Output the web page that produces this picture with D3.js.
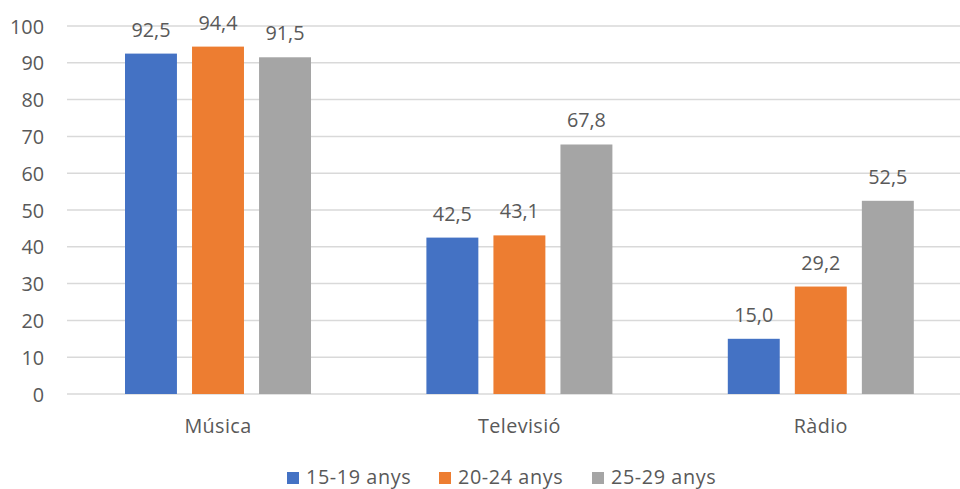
<!DOCTYPE html>
<html>
<head>
<meta charset="utf-8">
<script src="https://cdn.jsdelivr.net/npm/d3@7"></script>
<style>
  html, body { margin: 0; padding: 0; background: #fff; }
  svg { display: block; }
  text { font-family: "Open Sans", "Noto Sans", sans-serif; fill: #595959; }
</style>
</head>
<body>
<svg id="chart" width="960" height="489"></svg>
<script>
const categories = ["Música", "Televisió", "Ràdio"];
const seriesNames = ["15-19 anys", "20-24 anys", "25-29 anys"];
const values1519 = [92.5, 42.5, 15.0];
const values2024 = [94.4, 43.1, 29.2];
const values2529 = [91.5, 67.8, 52.5];
const yTicks = [0, 10, 20, 30, 40, 50, 60, 70, 80, 90, 100];
const colors = ["#4472C4", "#ED7D31", "#A5A5A5"];

const seriesValues = [values1519, values2024, values2529];
const svg = d3.select("#chart");
const W = 960, H = 489;
const fs = 19.8;

const x0 = d3.scaleBand().domain(categories).range([67.3, 971.5]).paddingInner(0).paddingOuter(0);
const groupW = 186;
const x1 = d3.scaleBand().domain(seriesNames).range([0, groupW]).paddingInner(0.225).paddingOuter(0);
const y = d3.scaleLinear().domain([0, 100]).range([394, 26]);

// gridlines
svg.append("g").selectAll("line").data(yTicks).join("line")
  .attr("x1", 67).attr("x2", W)
  .attr("y1", d => y(d)).attr("y2", d => y(d))
  .attr("stroke", "#D9D9D9").attr("stroke-width", 1.5);

// y axis labels
const yAxis = d3.axisLeft(y).tickValues(yTicks).tickSize(0).tickPadding(0).tickFormat(d3.format("d"));
const yg = svg.append("g").attr("transform", "translate(44,0)").call(yAxis);
yg.select(".domain").remove();
yg.selectAll("text").attr("font-size", fs).attr("fill", "#595959").attr("dy", "0.36em")
  .style("font-family", '"Open Sans", sans-serif');

// bars
const groups = svg.append("g").selectAll("g").data(categories).join("g")
  .attr("transform", d => `translate(${x0(d) + x0.bandwidth() / 2 - groupW / 2},0)`);

const fmt = v => v.toFixed(1).replace(".", ",");
groups.each(function(cat, ci) {
  const g = d3.select(this);
  seriesNames.forEach((s, si) => {
    const v = seriesValues[si][ci];
    g.append("rect")
      .attr("x", x1(s)).attr("width", x1.bandwidth())
      .attr("y", y(v)).attr("height", y(0) - y(v))
      .attr("fill", colors[si]);
    g.append("text")
      .attr("x", x1(s) + x1.bandwidth() / 2)
      .attr("y", y(v) - 17)
      .attr("text-anchor", "middle")
      .attr("font-size", fs)
      .text(fmt(v));
  });
});

// x axis labels
const xAxis = d3.axisBottom(x0).tickSize(0).tickPadding(0);
const xg = svg.append("g").attr("transform", "translate(0,433)").call(xAxis);
xg.select(".domain").remove();
xg.selectAll("text").attr("font-size", fs).attr("fill", "#595959").attr("dy", 0)
  .attr("letter-spacing", 0.4)
  .style("font-family", '"Open Sans", sans-serif');

// legend
const legendX = [287, 439, 592];
const lg = svg.append("g");
seriesNames.forEach((s, i) => {
  lg.append("rect").attr("x", legendX[i]).attr("y", 472).attr("width", 12).attr("height", 12).attr("fill", colors[i]);
  lg.append("text").attr("x", legendX[i] + 19).attr("y", 483.5).attr("font-size", fs)
    .attr("letter-spacing", 0.6).text(s);
});
</script>
</body>
</html>
